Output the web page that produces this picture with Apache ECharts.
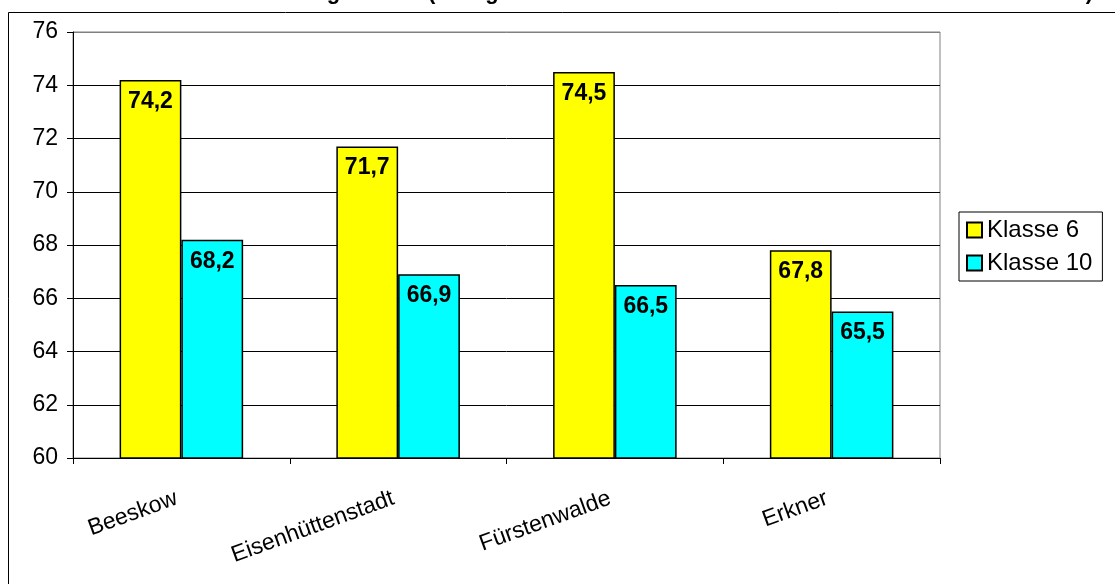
<!DOCTYPE html>
<html>
<head>
<meta charset="utf-8">
<script src="https://cdn.jsdelivr.net/npm/echarts@6/dist/echarts.min.js"></script>
<style>
html,body{margin:0;padding:0;background:#fff;}
#chart{width:1115px;height:584px;}
</style>
</head>
<body>
<div id="chart"></div>
<script>
const titleText = 'Durchschnittliche Leistung im Test (bezogen auf die maximal erreichbare Summe aller Einzelwerte)';
const categories = ['Beeskow', 'Eisenhüttenstadt', 'Fürstenwalde', 'Erkner'];
const seriesNames = ['Klasse 6', 'Klasse 10'];
const klasse6 = [74.2, 71.7, 74.5, 67.8];
const klasse10 = [68.2, 66.9, 66.5, 65.5];
const yMin = 60, yMax = 76, yStep = 2;

const FONT = 'Arial, "Liberation Sans", sans-serif';
const chart = echarts.init(document.getElementById('chart'), null, {renderer: 'canvas'});
const fmt = p => p.value.toFixed(1).replace('.', ',');
const splitColors = [];
for (let v = yMin; v <= yMax; v += yStep) splitColors.push(v === yMax ? '#808080' : '#000000');

const labelCfg = {
  show: true, position: 'insideTop', distance: 10,
  formatter: fmt, color: '#000', fontSize: 23, fontWeight: 'bold', fontFamily: FONT
};

chart.setOption({
  animation: false,
  backgroundColor: '#ffffff',
  graphic: [
    {type: 'rect', shape: {x: 8.5, y: 12.5, width: 1200, height: 700},
     style: {fill: 'none', stroke: '#000', lineWidth: 1}, z: 0},
    {type: 'text', x: 1093, y: 4,
     style: {text: titleText, font: 'bold 22px ' + FONT, fill: '#000', textAlign: 'right', textVerticalAlign: 'bottom'}}
  ],
  grid: {left: 73, right: 175, top: 32, bottom: 126, show: true, borderColor: '#808080', borderWidth: 1, backgroundColor: 'transparent'},
  legend: {
    orient: 'vertical', left: 959, top: 212,
    padding: [6, 10, 6, 7], itemGap: 9,
    itemWidth: 15, itemHeight: 15,
    borderColor: '#000', borderWidth: 1, backgroundColor: '#fff',
    icon: 'rect',
    textStyle: {fontSize: 24, fontFamily: FONT, color: '#000', lineHeight: 24},
    data: seriesNames
  },
  xAxis: {
    type: 'category', data: categories,
    axisLine: {lineStyle: {color: '#000', width: 1}},
    axisTick: {show: true, length: 6, lineStyle: {color: '#000'}},
    axisLabel: {rotate: 20, margin: 38, padding: [0, 5, 0, 0], fontSize: 23, fontFamily: FONT, color: '#000'},
    splitLine: {show: false}
  },
  yAxis: {
    type: 'value', min: yMin, max: yMax, interval: yStep,
    axisLine: {show: true, lineStyle: {color: '#000', width: 1}},
    axisTick: {show: true, length: 6, lineStyle: {color: '#000'}},
    axisLabel: {margin: 15, fontSize: 23, fontFamily: FONT, color: '#000'},
    splitLine: {show: true, lineStyle: {color: splitColors, width: 1}}
  },
  series: [
    {name: seriesNames[0], type: 'bar', data: klasse6, barGap: '0%', barCategoryGap: '43%',
     itemStyle: {color: '#ffff00', borderColor: '#000', borderWidth: 1.5}, label: labelCfg},
    {name: seriesNames[1], type: 'bar', data: klasse10, barGap: '0%', barCategoryGap: '43%',
     itemStyle: {color: '#00ffff', borderColor: '#000', borderWidth: 1.5}, label: labelCfg}
  ]
});
</script>
</body>
</html>
